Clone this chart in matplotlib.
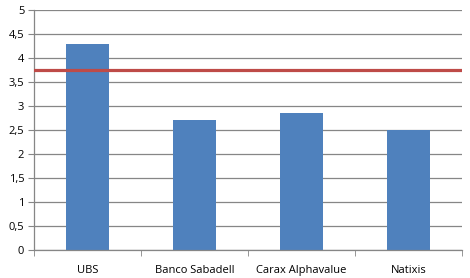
import numpy as np
import matplotlib
matplotlib.use("Agg")
import matplotlib.pyplot as plt

# data
brokers = ["UBS", "Banco Sabadell", "Carax Alphavalue", "Natixis"]
targets = [4.3, 2.7, 2.85, 2.5]
price_now = 3.76
yticks = [0, 0.5, 1, 1.5, 2, 2.5, 3, 3.5, 4, 4.5, 5]
ytick_labels = ["0", "0,5", "1", "1,5", "2", "2,5", "3", "3,5", "4", "4,5", "5"]

plt.rcParams["font.family"] = ["Open Sans", "DejaVu Sans"]

fig = plt.figure(figsize=(4.7, 2.78), dpi=100)
ax = fig.add_axes([34 / 470, 28 / 278, 428 / 470, 240 / 278])

x = np.arange(len(brokers))
ax.bar(x, targets, width=0.4, color="#4F81BD", zorder=2)
ax.axhline(price_now, color="#BE4B48", linewidth=2.3, zorder=3)

ax.set_xlim(-0.5, len(brokers) - 0.5)
ax.set_ylim(0, 5)
ax.set_yticks(yticks)
ax.set_yticklabels(ytick_labels)
ax.yaxis.grid(True, color="#868686", linewidth=0.9, zorder=0)

ax.set_xticks(x)
ax.set_xticklabels(brokers)
ax.set_xticks(np.arange(-0.5, len(brokers)), minor=True)
ax.tick_params(axis="x", which="major", length=0, pad=11, labelsize=8)
ax.tick_params(axis="x", which="minor", length=4, color="#868686")
ax.tick_params(axis="y", length=4, color="#868686", labelsize=8, pad=3)

for s in ["top", "right"]:
    ax.spines[s].set_visible(False)
for s in ["left", "bottom"]:
    ax.spines[s].set_color("#868686")
    ax.spines[s].set_linewidth(0.9)

fig.savefig("out.png", dpi=100)
